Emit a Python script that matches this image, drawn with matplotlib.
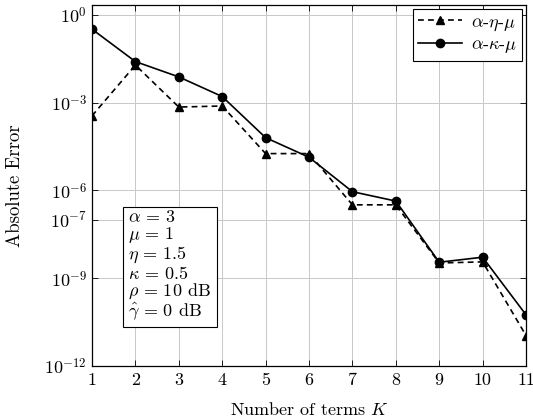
import matplotlib
matplotlib.use("Agg")
import matplotlib.pyplot as plt

plt.rcParams['font.family'] = 'serif'
plt.rcParams['font.serif'] = ['cmr10']
plt.rcParams['mathtext.fontset'] = 'cm'
plt.rcParams['axes.formatter.use_mathtext'] = True

K = [1, 2, 3, 4, 5, 6, 7, 8, 9, 10, 11]
err_eta_mu = [3.5e-4, 1.9e-2, 7.0e-4, 7.6e-4, 1.8e-5, 1.8e-5, 3.2e-7, 3.2e-7, 3.3e-9, 3.6e-9, 1.1e-11]
err_kappa_mu = [3.2e-1, 2.5e-2, 7.5e-3, 1.6e-3, 6.3e-5, 1.35e-5, 9.0e-7, 4.3e-7, 3.5e-9, 5.2e-9, 5.6e-11]
ytick_vals = [1e0, 1e-3, 1e-6, 1e-7, 1e-9, 1e-12]
ytick_labels = [r'$10^{0}$', r'$10^{-3}$', r'$10^{-6}$', r'$10^{-7}$', r'$10^{-9}$', r'$10^{-12}$']
params = [r'$\alpha\,=\,3$', r'$\mu\,=\,1$', r'$\eta\,=\,1.5$', r'$\kappa\,=\,0.5$',
          r'$\rho\,=\,10$ dB', r'$\hat{\gamma}\,=\,0$ dB']

fig = plt.figure(figsize=(5.33, 4.19), dpi=100)
ax = fig.add_axes([0.1726, 0.1265, 0.8143, 0.8615])

ax.plot(K, err_eta_mu, color='black', lw=1.2, dashes=(3.5, 2.5), marker='^', ms=6,
        label=r'$\alpha$-$\eta$-$\mu$')
ax.plot(K, err_kappa_mu, color='black', lw=1.2, marker='o', ms=6,
        label=r'$\alpha$-$\kappa$-$\mu$')

ax.set_yscale('log')
ax.set_xlim(1, 11)
ax.set_ylim(1e-12, 10**0.33)
ax.set_xticks(K)
ax.set_xticklabels([str(k) for k in K])
ax.set_yticks(ytick_vals)
ax.set_yticklabels(ytick_labels)
ax.yaxis.set_minor_locator(matplotlib.ticker.NullLocator())
ax.tick_params(direction='in', top=True, right=True, length=4, width=0.6,
               labelsize=13, colors='black')
ax.tick_params(axis='x', pad=5)
ax.grid(True, color='#c8c8c8', lw=0.7)
for s in ax.spines.values():
    s.set_linewidth(0.9)

ax.set_xlabel(r'Number of terms $K$', fontsize=13, labelpad=9)
ax.set_ylabel('Absolute Error', fontsize=13.5, labelpad=15)

leg = ax.legend(loc='upper right', fontsize=13, fancybox=False, framealpha=1,
                edgecolor='black', borderaxespad=0.2, handlelength=2.4,
                handletextpad=0.5, borderpad=0.3, labelspacing=0.2)
leg.get_frame().set_linewidth(0.8)

ax.text(0.084, 0.434, '\n'.join(params), transform=ax.transAxes, fontsize=13,
        va='top', ha='left', linespacing=0.97,
        bbox=dict(boxstyle='square,pad=0.3', fc='white', ec='black', lw=0.8))

fig.savefig('out.png', dpi=100)
